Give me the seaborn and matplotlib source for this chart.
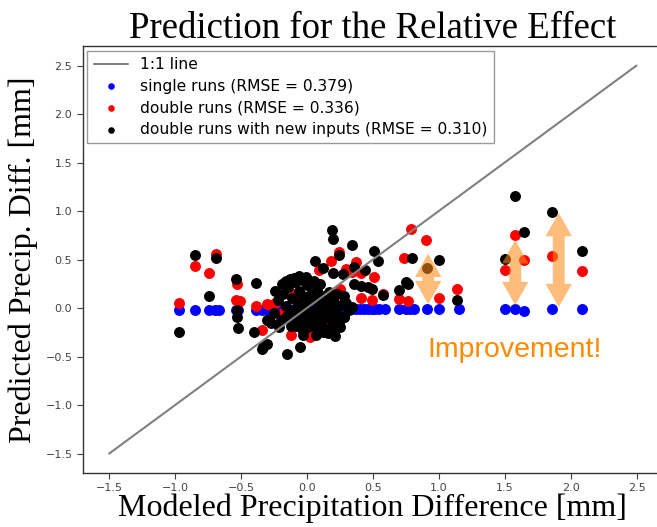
import seaborn as sns
import matplotlib.pyplot as plt
import numpy as np

# 1:1 reference line
line_x = [-1.5, 2.5]

# single runs (blue) - predictions sit on zero
single_x = [-0.97, -0.85, -0.74, -0.70, -0.67, -0.54, -0.52, -0.39, -0.34, -0.30,
            -0.26, -0.22, -0.18, -0.14, -0.10, -0.06, -0.02, 0.02, 0.06, 0.10,
            0.14, 0.18, 0.22, 0.26, 0.28, 0.31, 0.34, 0.37, 0.40, 0.43,
            0.46, 0.49, 0.52, 0.55, 0.59, 0.70, 0.75, 0.78, 0.81, 0.91,
            1.00, 1.15, 1.50, 1.58, 1.65, 1.86, 2.09]
single_y = [-0.02, -0.02, -0.02, -0.02, -0.02, -0.02, -0.02, -0.02, -0.02, -0.02,
            -0.01, -0.01, -0.01, -0.01, -0.01, -0.01, -0.01, -0.01, -0.01, -0.01,
            -0.01, -0.01, -0.01, -0.01, -0.01, -0.01, -0.01, -0.01, -0.01, -0.01,
            -0.01, -0.01, -0.01, -0.01, -0.01, -0.01, -0.01, -0.01, -0.01, -0.01,
            -0.01, -0.01, -0.01, -0.01, -0.03, -0.01, -0.01]

# double runs (red)
double_x = [-0.97, -0.85, -0.69, -0.74, -0.53, -0.54, -0.51, -0.39, -0.30, -0.34,
            -0.27, -0.24, -0.18, -0.10, 0.00, 0.05, 0.10, 0.15, 0.20, 0.25,
            -0.05, 0.08, 0.09, 0.18, 0.24, 0.30, 0.37, 0.34, 0.41, 0.51,
            0.41, 0.49, 0.58, 0.74, 0.79, 0.90, 0.70, 0.77, 1.00, 1.14,
            1.50, 1.58, 1.65, 1.86, 2.09, -0.12, 0.02]
double_y = [0.05, 0.43, 0.56, 0.36, 0.25, 0.08, 0.07, 0.02, 0.04, -0.23,
            0.03, 0.05, -0.05, 0.15, 0.10, -0.05, 0.05, -0.18, 0.15, 0.20,
            -0.15, -0.22, 0.39, 0.49, 0.58, 0.40, 0.47, 0.37, 0.36, 0.32,
            0.10, 0.08, 0.15, 0.52, 0.81, 0.70, 0.09, 0.07, 0.10, 0.20,
            0.39, 0.75, 0.50, 0.54, 0.38, -0.28, -0.30]

# double runs with new inputs (black)
new_x = [-0.97, -0.85, -0.69, -0.74, -0.54, -0.53, -0.53, -0.52, -0.39, -0.40,
         -0.33, -0.30, -0.34, -0.15, -0.05, 0.07, 0.20, 0.21, 0.28, 0.19,
         0.20, 0.34, 0.24, 0.06, 0.12, 0.20, 0.27, 0.36, 0.44, 0.51,
         0.54, 0.36, 0.41, 0.46, 0.49, 0.58, 0.70, 0.75, 0.77, 0.80,
         0.91, 1.00, 1.14, 1.50, 1.58, 1.65, 1.86, 2.09, 0.28, -0.30,
         -0.17, -0.10, -0.04, -0.01, 0.04, -0.16,
         -0.25, -0.22, -0.20, -0.18, -0.16, -0.15, -0.14, -0.12, -0.11, -0.10,
         -0.09, -0.08, -0.07, -0.06, -0.05, -0.04, -0.03, -0.02, -0.01, 0.00,
         0.01, 0.02, 0.03, 0.04, 0.05, 0.06, 0.07, 0.08, 0.09, 0.10,
         0.11, 0.12, 0.13, 0.14, 0.15, 0.16, 0.17, 0.18, 0.19, 0.20,
         0.22, 0.23, 0.24, 0.26, 0.28, 0.30, 0.32, 0.34, -0.24, -0.19,
         -0.13, -0.06, 0.00, 0.05, -0.27, -0.21, 0.10, -0.03, 0.12, 0.25,
         0.03, 0.08, 0.14, 0.18, 0.22, 0.01, 0.11, 0.16, -0.08, 0.06]
new_y = [-0.25, 0.55, 0.52, 0.12, 0.30, -0.02, -0.09, -0.21, 0.26, -0.25,
         -0.40, -0.37, -0.42, -0.47, -0.40, -0.28, -0.24, -0.29, -0.09, 0.80,
         0.71, 0.65, 0.55, 0.49, 0.41, 0.36, 0.35, 0.42, 0.39, 0.59,
         0.48, 0.25, 0.23, 0.22, 0.20, 0.13, 0.19, 0.27, 0.25, 0.52,
         0.41, 0.50, 0.08, 0.51, 1.16, 0.78, 0.99, 0.59, 0.12, -0.12,
         0.27, 0.31, 0.29, 0.32, 0.27, 0.28,
         -0.05, 0.08, -0.12, 0.15, 0.02, -0.08, 0.22, -0.18, 0.10, -0.02,
         0.27, -0.12, 0.05, 0.18, -0.06, -0.22, 0.12, 0.00, -0.14, 0.24,
         0.06, -0.08, 0.15, -0.03, -0.18, 0.09, -0.10, 0.20, 0.02, -0.05,
         -0.15, 0.12, -0.01, -0.22, 0.06, -0.09, 0.17, 0.00, -0.12, 0.08,
         -0.04, 0.14, -0.15, 0.03, -0.09, 0.05, -0.02, 0.01, 0.18, 0.25,
         0.30, 0.33, 0.30, 0.28, -0.15, -0.20, 0.25, -0.28, -0.25, -0.20,
         -0.12, -0.16, -0.06, -0.20, -0.10, -0.20, -0.24, -0.26, -0.18, -0.14]

# improvement arrows: x, bottom, top
arrow_x = [0.92, 1.58, 1.91]
arrow_lo = [0.04, 0.03, 0.01]
arrow_hi = [0.56, 0.70, 0.98]

sns.set_theme(style="ticks")
plt.rcParams['font.family'] = ['DejaVu Sans']

fig = plt.figure(figsize=(6.57, 5.27), dpi=100)
ax = fig.add_axes([0.126, 0.1025, 0.883, 0.81])

sns.lineplot(x=line_x, y=line_x, color="gray", linewidth=1.5, label="1:1 line",
             ax=ax, zorder=3)
sns.scatterplot(x=single_x, y=single_y, color="blue", s=62, linewidth=0,
                label="single runs (RMSE = 0.379)", ax=ax, zorder=2)
sns.scatterplot(x=double_x, y=double_y, color="red", s=62, linewidth=0,
                label="double runs (RMSE = 0.336)", ax=ax, zorder=2)
sns.scatterplot(x=new_x, y=new_y, color="black", s=62, linewidth=0,
                label="double runs with new inputs (RMSE = 0.310)", ax=ax, zorder=2)

# double-headed arrows made of two halves
for xa, lo, hi in zip(arrow_x, arrow_lo, arrow_hi):
    mid = (lo + hi) / 2
    for start, end in [(mid, hi), (mid, lo)]:
        ax.arrow(xa, start, 0, end - start, width=0.09, head_width=0.2,
                 head_length=0.24, length_includes_head=True,
                 color="#FF8C1A", alpha=0.58, linewidth=0, zorder=4)

ax.text(0.91, -0.43, "Improvement!", color="#FF8A00", fontsize=20.5,
        family="Liberation Sans", va="center", ha="left")

ax.set_xlim(-1.7, 2.7)
ax.set_ylim(-1.7, 2.7)
ax.set_xticks([-1.5, -1.0, -0.5, 0.0, 0.5, 1.0, 1.5, 2.0, 2.5])
ax.set_yticks([-1.5, -1.0, -0.5, 0.0, 0.5, 1.0, 1.5, 2.0, 2.5])
ax.tick_params(labelsize=8, labelcolor="#444444", color="#444444", length=4, width=0.8)
for sp in ax.spines.values():
    sp.set_color("#333333")
    sp.set_linewidth(1.0)

ax.set_title("Prediction for the Relative Effect", family="Liberation Serif",
             fontsize=26.5, pad=3, color="black")
ax.set_xlabel("Modeled Precipitation Difference [mm]", family="Liberation Serif",
              fontsize=23, labelpad=0, color="black")
ax.set_ylabel("Predicted Precip. Diff. [mm]", family="Liberation Serif",
              fontsize=23, labelpad=5, color="black")

leg = ax.legend(loc="upper left", fontsize=11.2, markerscale=0.6, fancybox=False,
                edgecolor="#999999", framealpha=1, borderaxespad=0.3,
                handlelength=2.2, labelspacing=0.42)
for t in leg.get_texts():
    t.set_color("black")

fig.savefig("out.png", dpi=100)
